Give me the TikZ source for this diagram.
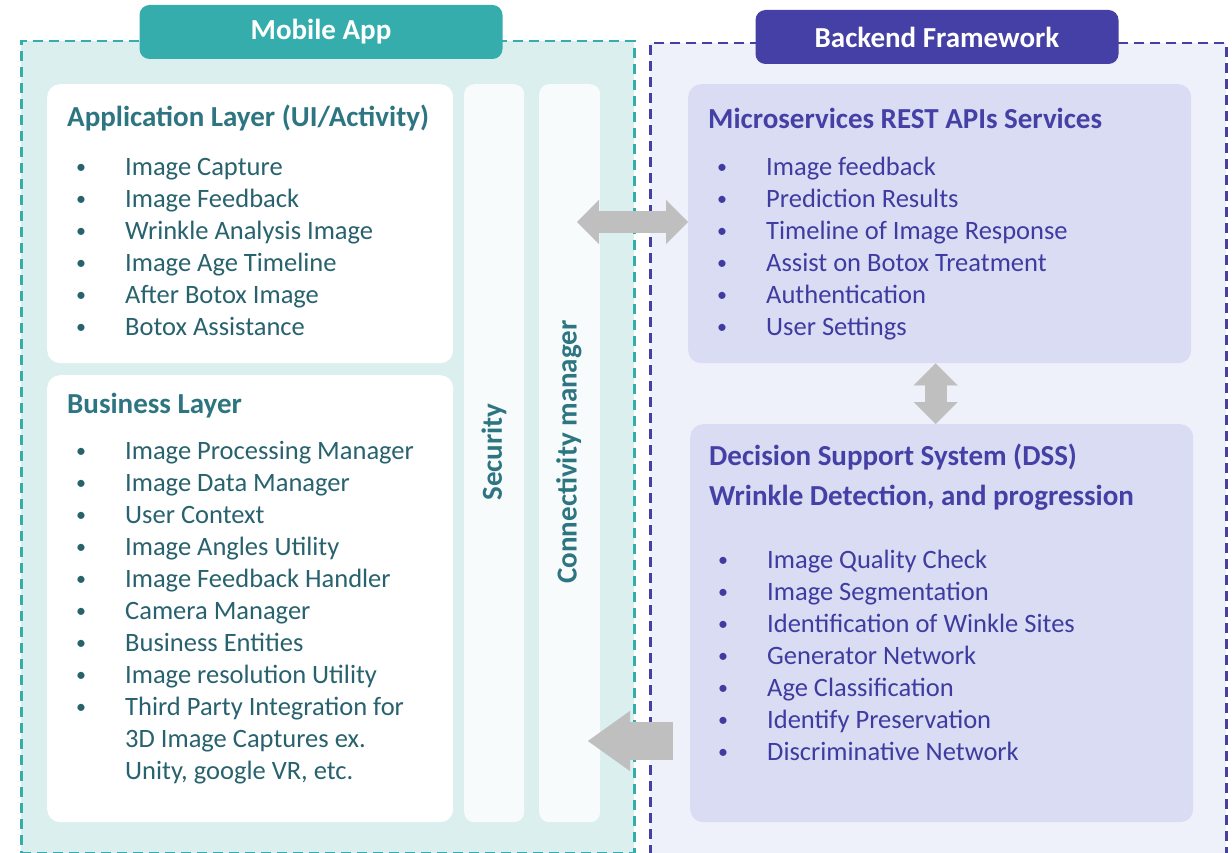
\documentclass[tikz,border=0pt]{standalone}
\usepackage{fontspec}
\setmainfont{Carlito}
\usetikzlibrary{arrows.meta}

\definecolor{appteal}{HTML}{35ADAD}
\definecolor{appbg}{HTML}{DAEFEE}
\definecolor{apphead}{HTML}{2E7582}
\definecolor{apptext}{HTML}{28626E}
\definecolor{colbg}{HTML}{F7FBFC}
\definecolor{bkpurple}{HTML}{4540A5}
\definecolor{bkbg}{HTML}{EEF0FA}
\definecolor{bktext}{HTML}{3F3BA0}
\definecolor{svcbg}{HTML}{D9DCF3}
\definecolor{arrowgray}{HTML}{BFBFBF}

\newcommand{\bl}[1]{\makebox[49pt][l]{\raisebox{2pt}{\fontsize{20}{20}\selectfont\textbullet}}#1}
\newcommand{\cont}[1]{\hspace*{49pt}#1}

\tikzset{
  frame/.style={anchor=north west, inner sep=0pt, line width=2.5pt, dash pattern=on 10pt off 6pt},
  tab/.style={rounded corners=10pt, inner sep=0pt, text=white, font=\fontsize{29}{32}\selectfont\bfseries},
  panel/.style={anchor=north west, inner sep=0pt, rounded corners=13pt},
  head/.style={anchor=west, inner sep=0pt, font=\fontsize{29}{34}\selectfont\bfseries},
  items/.style={anchor=north west, inner sep=0pt, align=left, font=\fontsize{26.5}{32}\selectfont},
  vlabel/.style={rotate=90, inner sep=0pt, text=apphead, font=\fontsize{29}{32}\selectfont\bfseries},
  blockarrow/.style={draw=arrowgray, line width=22pt,
    {Triangle[length=22pt, width=44pt, line width=0.1pt]}-{Triangle[length=22pt, width=44pt, line width=0.1pt]}},
  backarrow/.style={draw=arrowgray, line width=38pt,
    -{Triangle[length=42pt, width=60pt, line width=0.1pt]}}
}

\begin{document}
\begin{tikzpicture}[x=1pt,y=-1pt]
  \useasboundingbox (0,0) rectangle (1232,853);

  % containers
  \node[frame, draw=appteal, fill=appbg, minimum width=613pt, minimum height=812pt] (mobile) at (20,40) {};
  \node[frame, draw=bkpurple, fill=bkbg, minimum width=576pt, minimum height=830pt] (backend) at (649,42) {};
  \node[tab, fill=appteal, minimum width=363pt, minimum height=54pt] (mobiletab) at (321,32) {Mobile App};
  \node[tab, fill=bkpurple, minimum width=363pt, minimum height=54pt] (backendtab) at (937,37) {Backend Framework};

  % mobile app side
  \node[panel, fill=white, minimum width=406pt, minimum height=279pt] (applayer) at (47,84) {};
  \node[panel, fill=white, minimum width=406pt, minimum height=447pt] (buslayer) at (47,375) {};
  \node[panel, fill=colbg, minimum width=60pt, minimum height=738pt, rounded corners=10pt] (security) at (464,84) {};
  \node[panel, fill=colbg, minimum width=61pt, minimum height=738pt, rounded corners=10pt] (connect) at (539,84) {};
  \node[vlabel] (seclabel) at (494,452) {Security};
  \node[vlabel] (connlabel) at (569,452) {Connectivity manager};

  \node[head, text=apphead] (apphead) at (67,118) {Application Layer (UI/Activity)};
  \node[items, text=apptext] (applist) at (76,158) {\bl{Image Capture}\\ \bl{Image Feedback}\\
    \bl{Wrinkle Analysis Image}\\ \bl{Image Age Timeline}\\ \bl{After Botox Image}\\ \bl{Botox Assistance}};
  \node[head, text=apphead] (bushead) at (67,406) {Business Layer};
  \node[items, text=apptext] (buslist) at (76,441) {\bl{Image Processing Manager}\\ \bl{Image Data Manager}\\
    \bl{User Context}\\ \bl{Image Angles Utility}\\ \bl{Image Feedback Handler}\\ \bl{Camera Manager}\\
    \bl{Business Entities}\\ \bl{Image resolution Utility}\\ \bl{Third Party Integration for}\\
    \cont{3D Image Captures ex.}\\ \cont{Unity, google VR, etc.}};

  % backend side
  \node[panel, fill=svcbg, minimum width=503pt, minimum height=279pt] (svc) at (688,84) {};
  \node[panel, fill=svcbg, minimum width=503pt, minimum height=398pt] (dss) at (690,424) {};

  \node[head, text=bkpurple] (svchead) at (708,118) {Microservices REST APIs Services};
  \node[items, text=bktext] (svclist) at (717,157) {\bl{Image feedback}\\ \bl{Prediction Results}\\
    \bl{Timeline of Image Response}\\ \bl{Assist on Botox Treatment}\\ \bl{Authentication}\\ \bl{User Settings}};
  \node[head, text=bkpurple] (dsshead) at (709,457) {Decision Support System (DSS)};
  \node[head, text=bkpurple] (dsssub) at (709,498) {Wrinkle Detection, and progression};
  \node[items, text=bktext] (dsslist) at (718,550) {\bl{Image Quality Check}\\ \bl{Image Segmentation}\\
    \bl{Identification of Winkle Sites}\\ \bl{Generator Network}\\ \bl{Age Classification}\\
    \bl{Identify Preservation}\\ \bl{Discriminative Network}};

  % links
  \coordinate (linkL) at (577,222);
  \coordinate (backR) at (673,741);
  \coordinate (backL) at (588,741);
  \draw[blockarrow] (linkL) -- (svc.west |- linkL);
  \draw[blockarrow] ([xshift=-4pt]svc.south) -- ([xshift=-6pt]dss.north);
  \draw[backarrow] (backR) -- (backL);
\end{tikzpicture}
\end{document}
